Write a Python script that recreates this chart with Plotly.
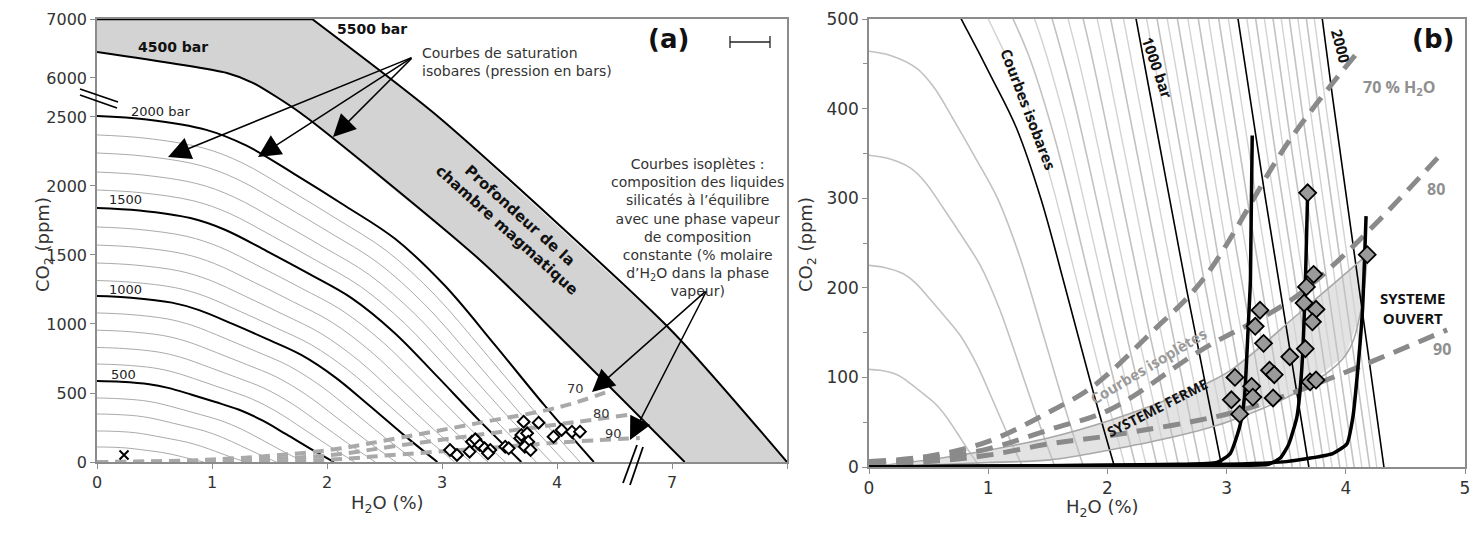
import plotly.graph_objects as go

W, H = 1481, 544

# ---------------- shared isobar data (saturation curves) ----------------
ISO_P = [100, 200, 300, 400, 500, 600, 700, 800, 900, 1000,
         1100, 1200, 1300, 1400, 1500, 1600, 1700, 1800, 1900, 2000]
ISO_CO2_AT_0 = [109, 225, 348, 464, 587, 710, 830, 955, 1080, 1203,
                1315, 1442, 1572, 1703, 1841, 1971, 2101, 2239, 2370, 2507]
ISO_H2O_END = [0.93, 1.29, 1.56, 1.80, 2.06, 2.24, 2.42, 2.60, 2.78, 2.96,
               3.11, 3.25, 3.40, 3.55, 3.69, 3.82, 3.95, 4.07, 4.20, 4.32]
# intermediate (50 bar) isobars visible in panel (b)
B_ISO50_P = [550, 650, 750, 850, 950, 1050, 1150, 1250, 1350, 1450,
             1550, 1650, 1750, 1850, 1950]
B_ISO50_CO2_AT_0 = [648, 770, 892, 1017, 1141, 1259, 1378, 1507, 1637, 1772,
                    1906, 2036, 2170, 2304, 2438]
B_ISO50_H2O_END = [2.15, 2.33, 2.51, 2.69, 2.87, 3.035, 3.18, 3.325, 3.475, 3.62,
                   3.755, 3.885, 4.01, 4.135, 4.26]
# normalised shape of an isobar
PROFILE_T = [0, 0.1, 0.22, 0.3, 0.4, 0.5, 0.6, 0.7, 0.8, 0.9, 1.0]
PROFILE_F = [1, 0.99, 0.96, 0.915, 0.83, 0.74, 0.645, 0.51, 0.34, 0.165, 0]

# ---------------- panel (a) (broken axes: display coordinates) ----------------
A_XTICK_VALS = [0, 1, 2, 3, 4, 5, 6]
A_XTICK_TEXT = ["0", "1", "2", "3", "4", "7", ""]
A_YTICK_VALS = [0, 500, 1000, 1500, 2000, 2500, 2783, 3210]
A_YTICK_TEXT = ["0", "500", "1000", "1500", "2000", "2500", "6000", "7000"]

A_P4500_X = [0, 1.13, 1.36, 1.77, 3.33, 5.11]
A_P4500_Y = [2971, 2819, 2746, 2529, 1464, 0]
A_P5500_X = [1.87, 2.97, 4.99, 6.0]
A_P5500_Y = [3210, 2500, 957, 0]
A_TOP_Y = 3210

A_ISO70_X = [0, 1, 2, 2.63, 3.3, 4.03, 4.46]
A_ISO70_Y = [0, 18, 85, 175, 280, 400, 515]
A_ISO80_X = [0, 1, 2, 2.63, 3.3, 4.03, 4.61]
A_ISO80_Y = [0, 10, 48, 120, 195, 275, 340]
A_ISO90_X = [0, 1, 2, 2.63, 3.3, 4.03, 4.72]
A_ISO90_Y = [0, 4, 16, 55, 95, 142, 174]

A_PTS_X = [3.07, 3.13, 3.24, 3.26, 3.29, 3.33, 3.37, 3.42, 3.40, 3.55, 3.58, 3.68,
           3.69, 3.71, 3.74, 3.75, 3.72, 3.77, 3.84, 3.97, 4.04, 4.13, 4.20]
A_PTS_Y = [87, 51, 75, 147, 164, 123, 99, 87, 63, 111, 99, 172,
           196, 292, 208, 147, 111, 87, 285, 183, 232, 220, 220]
A_CROSS_X = [0.235]
A_CROSS_Y = [51]

# ---------------- panel (b) ----------------
B_ISO70_X = [0, 0.5, 0.99, 1.52, 1.88, 2.36, 2.80, 3.53, 4.10]
B_ISO70_Y = [6, 12, 28, 62, 90, 149, 209, 365, 463]
B_ISO80_X = [0, 0.5, 0.99, 1.52, 2.02, 2.78, 3.62, 4.77]
B_ISO80_Y = [5, 9, 20, 42, 64, 130, 194, 345]
B_ISO90_X = [0, 0.5, 0.99, 1.52, 2.02, 3.03, 3.62, 4.85]
B_ISO90_Y = [4, 6, 13, 26, 35, 60, 86, 153]

B_BAND_UP_X = [0, 0.5, 0.93, 1.52, 2.02, 2.5, 3.0, 3.62, 4.06, 4.18]
B_BAND_UP_Y = [0, 8, 17, 33, 52, 75, 105, 173, 223, 237]
B_BAND_LO_X = [0, 0.5, 1.0, 1.52, 2.02, 2.5, 3.0, 3.62, 4.0, 4.12, 4.18]
B_BAND_LO_Y = [0, 2, 5, 8, 19, 32, 50, 86, 125, 170, 237]

B_PATH1_X = [0, 1, 2, 2.6, 2.92, 3.03, 3.11, 3.15, 3.18, 3.20, 3.215]
B_PATH1_Y = [0, 1, 2, 3, 5, 15, 45, 78, 153, 209, 370]
B_PATH2_X = [0, 2, 3.0, 3.35, 3.45, 3.52, 3.59, 3.63, 3.66, 3.68]
B_PATH2_Y = [0, 1, 2, 3, 10, 25, 56, 108, 200, 306]
B_PATH3_X = [0, 2, 3.0, 3.5, 3.89, 4.01, 4.06, 4.10, 4.14, 4.17]
B_PATH3_Y = [0, 2, 3, 6, 15, 26, 56, 108, 175, 280]

B_PTS_X = [3.28, 3.24, 3.31, 3.07, 3.04, 3.11, 3.21, 3.22, 3.36, 3.40, 3.39, 3.53,
           3.66, 3.65, 3.67, 3.73, 3.75, 3.72, 3.70, 3.75, 3.68, 4.18]
B_PTS_Y = [175, 157, 138, 100, 75, 59, 90, 78, 108, 103, 77, 123,
           132, 183, 201, 215, 176, 162, 95, 97, 306, 237]


def px(v):
    return v / W


def py(v):
    return 1 - v / H


fig = go.Figure()

# ---------- panel (a) ----------
band_x = [0, A_P5500_X[0]] + A_P5500_X[1:] + A_P4500_X[::-1]
band_y = [A_TOP_Y, A_TOP_Y] + A_P5500_Y[1:] + A_P4500_Y[::-1]
fig.add_trace(go.Scatter(x=band_x, y=band_y, fill="toself", fillcolor="#d3d3d3",
                         line=dict(width=0), mode="lines", xaxis="x", yaxis="y",
                         hoverinfo="skip"))

for p, y0, xe in zip(ISO_P, ISO_CO2_AT_0, ISO_H2O_END):
    black = p % 500 == 0
    fig.add_trace(go.Scatter(
        x=[t * xe for t in PROFILE_T], y=[f * y0 for f in PROFILE_F],
        mode="lines", line=dict(color="black" if black else "#a0a0a0",
                                width=2 if black else 0.9, shape="spline"),
        xaxis="x", yaxis="y", hoverinfo="skip"))

for xs, ys in [(A_P4500_X, A_P4500_Y), (A_P5500_X, A_P5500_Y)]:
    fig.add_trace(go.Scatter(x=xs, y=ys, mode="lines",
                             line=dict(color="black", width=2, shape="spline", smoothing=0.6),
                             xaxis="x", yaxis="y", hoverinfo="skip"))
fig.add_trace(go.Scatter(x=[0, A_P5500_X[0]], y=[A_TOP_Y, A_TOP_Y], mode="lines",
                         line=dict(color="black", width=2.5), xaxis="x", yaxis="y",
                         cliponaxis=False, hoverinfo="skip"))

for xs, ys in [(A_ISO70_X, A_ISO70_Y), (A_ISO80_X, A_ISO80_Y), (A_ISO90_X, A_ISO90_Y)]:
    fig.add_trace(go.Scatter(x=xs, y=ys, mode="lines",
                             line=dict(color="#a9a9a9", width=4, dash="11px,7px", shape="spline"),
                             xaxis="x", yaxis="y", hoverinfo="skip"))

fig.add_trace(go.Scatter(x=A_PTS_X, y=A_PTS_Y, mode="markers",
                         marker=dict(symbol="diamond", size=9, color="white",
                                     line=dict(color="black", width=2)),
                         xaxis="x", yaxis="y", hoverinfo="skip"))
fig.add_trace(go.Scatter(x=A_CROSS_X, y=A_CROSS_Y, mode="markers",
                         marker=dict(symbol="x-thin", size=9,
                                     line=dict(color="black", width=2)),
                         xaxis="x", yaxis="y", hoverinfo="skip"))

# ---------- panel (b) ----------
fig.add_trace(go.Scatter(x=B_BAND_LO_X + B_BAND_UP_X[::-1], y=B_BAND_LO_Y + B_BAND_UP_Y[::-1],
                         fill="toself", fillcolor="#e3e3e3", line=dict(width=0),
                         mode="lines", xaxis="x2", yaxis="y2", hoverinfo="skip"))

for y0, xe in zip(B_ISO50_CO2_AT_0, B_ISO50_H2O_END):
    fig.add_trace(go.Scatter(
        x=[t * xe for t in PROFILE_T], y=[f * y0 for f in PROFILE_F],
        mode="lines", line=dict(color="#d2d2d2", width=1.4, shape="spline"),
        xaxis="x2", yaxis="y2", hoverinfo="skip"))

for p, y0, xe in zip(ISO_P, ISO_CO2_AT_0, ISO_H2O_END):
    black = p % 500 == 0
    fig.add_trace(go.Scatter(
        x=[t * xe for t in PROFILE_T], y=[f * y0 for f in PROFILE_F],
        mode="lines", line=dict(color="black" if black else "#c2c2c2",
                                width=1.6, shape="spline"),
        xaxis="x2", yaxis="y2", hoverinfo="skip"))

for xs, ys in [(B_BAND_UP_X, B_BAND_UP_Y), (B_BAND_LO_X, B_BAND_LO_Y)]:
    fig.add_trace(go.Scatter(x=xs, y=ys, mode="lines",
                             line=dict(color="#a8a8a8", width=1.6, shape="spline"),
                             xaxis="x2", yaxis="y2", hoverinfo="skip"))

for xs, ys in [(B_ISO70_X, B_ISO70_Y), (B_ISO80_X, B_ISO80_Y), (B_ISO90_X, B_ISO90_Y)]:
    fig.add_trace(go.Scatter(x=xs, y=ys, mode="lines",
                             line=dict(color="#8a8a8a", width=5, dash="17px,10px", shape="spline"),
                             xaxis="x2", yaxis="y2", hoverinfo="skip"))

for xs, ys in [(B_PATH1_X, B_PATH1_Y), (B_PATH2_X, B_PATH2_Y), (B_PATH3_X, B_PATH3_Y)]:
    fig.add_trace(go.Scatter(x=xs, y=ys, mode="lines",
                             line=dict(color="black", width=3.5, shape="spline", smoothing=0.5),
                             xaxis="x2", yaxis="y2", cliponaxis=False, hoverinfo="skip"))

fig.add_trace(go.Scatter(x=B_PTS_X, y=B_PTS_Y, mode="markers",
                         marker=dict(symbol="diamond", size=13, color="#9a9a9a",
                                     line=dict(color="black", width=1.8)),
                         xaxis="x2", yaxis="y2", hoverinfo="skip"))

# ---------- axes ----------
axis_common = dict(showgrid=False, zeroline=False, ticks="outside", ticklen=5,
                   tickcolor="#8c8c8c", linecolor="#8c8c8c", linewidth=1.5,
                   mirror=True, showline=True)
font_a = dict(family="DejaVu Sans", size=16, color="#333333")
font_b = dict(family="DejaVu Sans", size=17, color="#333333")

fig.update_layout(
    width=W, height=H, margin=dict(l=0, r=0, t=0, b=0, autoexpand=False),
    paper_bgcolor="white", plot_bgcolor="white", showlegend=False,
    xaxis=dict(domain=[97 / W, 787 / W], range=[0, 6], tickmode="array",
               tickvals=A_XTICK_VALS, ticktext=A_XTICK_TEXT, anchor="y",
               tickfont=font_a, **axis_common),
    yaxis=dict(domain=[82 / H, 525 / H], range=[0, 3210], tickmode="array",
               tickvals=A_YTICK_VALS, ticktext=A_YTICK_TEXT, anchor="x",
               tickfont=font_a, **axis_common),
    xaxis2=dict(domain=[869 / W, 1465 / W], range=[0, 5], dtick=1, anchor="y2",
                tickfont=font_b, **axis_common),
    yaxis2=dict(domain=[77 / H, 525 / H], range=[0, 500], dtick=100, anchor="x2",
                minor=dict(ticks="outside", dtick=50, ticklen=4, tickcolor="#8c8c8c"),
                tickfont=font_b, **axis_common),
)

ann = []
SANS = "DejaVu Sans"
OS = "Open Sans"


def ta(x, y, text, size=13, color="#222222", family=SANS, angle=0, xr="x", yr="y",
       align="center", xanchor="center", bold=False):
    if bold:
        text = "<b>" + text + "</b>"
    ann.append(dict(x=x, y=y, xref=xr, yref=yr, text=text, showarrow=False,
                    font=dict(size=size, color=color, family=family),
                    textangle=angle, align=align, xanchor=xanchor, yanchor="middle"))


# panel (a) texts
ta(0.66, 3007, "4500 bar", 14, "#111", SANS, bold=True)
ta(2.39, 3140, "5500 bar", 14, "#111", SANS, bold=True)
ta(0.55, 2540, "2000 bar", 13)
ta(0.25, 1905, "1500", 13)
ta(0.25, 1250, "1000", 13)
ta(0.23, 632, "500", 13)
ta(4.16, 536, "70", 13, "#333")
ta(4.39, 355, "80", 13, "#333")
ta(4.49, 210, "90", 13, "#333")
ta(4.97, 3068, "(a)", 26, "#111", SANS, bold=True)
ta(2.81, 2898, "Courbes de saturation<br>isobares (pression en bars)", 14, "#333",
   align="left", xanchor="left")
ta(5.22, 1696, "Courbes isoplètes :<br>composition des liquides<br>silicatés à l’équilibre"
   "<br>avec une phase vapeur<br>de composition<br>constante (% molaire<br>"
   "d’H<sub>2</sub>O dans la phase<br>vapeur)", 14, "#333")
ta(3.62, 1735, "Profondeur de la<br>chambre magmatique", 15, "#111", SANS, angle=42, bold=True)

# axis titles
for xp, ypp, ang in [(30, 245, -90), (807, 245, -90)]:
    ann.append(dict(x=px(xp), y=py(ypp), xref="paper", yref="paper", showarrow=False,
                    text="CO<sub>2</sub> (ppm)", textangle=ang,
                    font=dict(size=18, family=SANS, color="#333")))
for xp, ypp in [(349, 518), (1141, 522)]:
    ann.append(dict(x=px(xp), y=py(ypp), xref="paper", yref="paper", showarrow=False,
                    text="H<sub>2</sub>O (%)", font=dict(size=18, family=SANS, color="#333")))

# arrows panel (a)
for (hx, hy), (tx, tyy) in [((168, 157), (413, 57)), ((258, 157), (413, 57)),
                            ((333, 137), (413, 57)), ((592, 392), (707, 290)),
                            ((630, 440), (707, 290))]:
    ann.append(dict(x=px(hx), y=py(hy), xref="paper", yref="paper", text="",
                    showarrow=True, arrowhead=2, arrowsize=3, arrowwidth=1.5,
                    arrowcolor="black", ax=tx - hx, ay=tyy - hy, standoff=0))

# panel (b) texts
ta(1.34, 400, "Courbes isobares", 15, "#111", OS, angle=69, xr="x2", yr="y2", bold=True)
ta(2.42, 445, "1000 bar", 15, "#111", OS, angle=71, xr="x2", yr="y2", bold=True)
ta(3.96, 470, "2000", 15, "#111", OS, angle=75, xr="x2", yr="y2", bold=True)
ta(4.73, 478, "(b)", 26, "#111", SANS, xr="x2", yr="y2", bold=True)
ta(4.45, 423, "70 % H<sub>2</sub>O", 16, "#8f8f8f", OS, xr="x2", yr="y2", bold=True)
ta(4.76, 310, "80", 16, "#8f8f8f", OS, xr="x2", yr="y2", bold=True)
ta(4.81, 132, "90", 16, "#8f8f8f", OS, xr="x2", yr="y2", bold=True)
ta(4.56, 177, "SYSTEME<br>OUVERT", 15, "#111", OS, xr="x2", yr="y2", bold=True)
ta(2.42, 66, "SYSTEME FERME", 14, "#111", OS, angle=-27, xr="x2", yr="y2", bold=True)
ta(2.34, 113, "Courbes isoplètes", 15, "#9a9a9a", OS, angle=-31, xr="x2", yr="y2", bold=True)

fig.update_layout(annotations=ann)

# decorative shapes: axis breaks and scale bar (paper coordinates)
shapes = []
for (x0, y0, x1, y1) in [(80, 89, 118, 102), (80, 95, 117, 108),
                         (623, 483, 637, 445), (630, 485, 643, 447)]:
    shapes.append(dict(type="line", xref="paper", yref="paper", x0=px(x0), y0=py(y0),
                       x1=px(x1), y1=py(y1), line=dict(color="black", width=1.8)))
for (x0, y0, x1, y1) in [(730, 42, 770, 42), (730, 36, 730, 48), (770, 36, 770, 48)]:
    shapes.append(dict(type="line", xref="paper", yref="paper", x0=px(x0), y0=py(y0),
                       x1=px(x1), y1=py(y1), line=dict(color="#222", width=1.3)))
fig.update_layout(shapes=shapes)

fig.write_html("out.html", config={"displayModeBar": False},
               post_script="document.body.style.margin='0px';"
                           "document.body.style.overflow='hidden';")
